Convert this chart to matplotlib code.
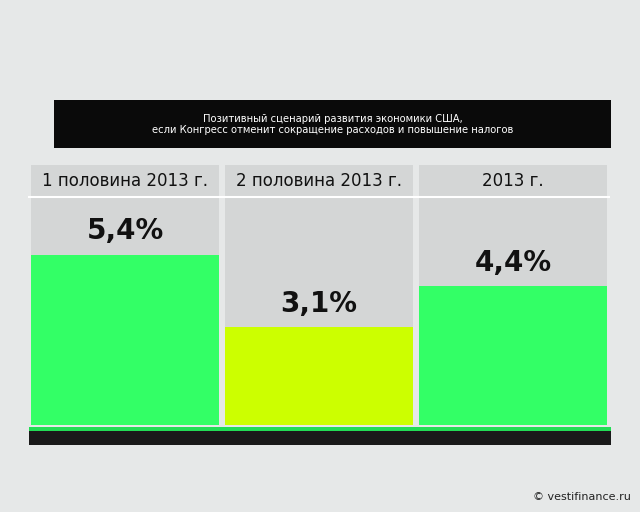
import matplotlib
matplotlib.use("Agg")
import matplotlib.pyplot as plt
from matplotlib.patches import Rectangle

categories = ["1 половина 2013 г.", "2 половина 2013 г.", "2013 г."]
values = [5.4, 3.1, 4.4]
labels = ["5,4%", "3,1%", "4,4%"]
colors = ["#33ff66", "#ccff00", "#33ff66"]
title = "Позитивный сценарий развития экономики США,\nесли Конгресс отменит сокращение расходов и повышение налогов"

fig = plt.figure(figsize=(6.4, 5.12), dpi=100)
fig.patch.set_facecolor("#e6e8e8")

fig.patches.append(Rectangle((0.085, 0.71), 0.87, 0.095, transform=fig.transFigure,
                             facecolor="#0a0a0a", edgecolor="none", zorder=1))
fig.text(0.52, 0.757, title, ha="center", va="center", color="white", fontsize=7.2, zorder=2)
fig.patches.append(Rectangle((0.045, 0.13), 0.91, 0.035, transform=fig.transFigure,
                             facecolor="#1a1a1a", edgecolor="none", zorder=1))
fig.patches.append(Rectangle((0.045, 0.158), 0.91, 0.008, transform=fig.transFigure,
                             facecolor="#22dd55", edgecolor="none", zorder=2))

ax = fig.add_axes([28/640, 1-425/512, 582/640, 260/512])
ax.set_facecolor("none")
ax.set_xlim(-0.5, 2.5)
ax.set_ylim(0, 8.25)
x = range(len(values))
ax.bar(x, [8.25]*3, width=0.97, color="#d4d6d6", zorder=1)
ax.bar(x, values, width=0.97, color=colors, zorder=2)
for i, (v, l, c) in enumerate(zip(values, labels, categories)):
    ax.text(i, v + 0.3, l, ha="center", va="bottom", fontsize=20, fontweight="bold",
            color="#111111", zorder=3)
    ax.text(i, 7.75, c, ha="center", va="center", fontsize=12, color="#111111", zorder=3)
ax.axhline(7.25, color="white", lw=1.5, zorder=1.5)
ax.axis("off")

fig.text(0.985, 0.03, "© vestifinance.ru", ha="right", va="center", color="#222222", fontsize=8)
fig.savefig("out.png", dpi=100, facecolor=fig.get_facecolor())
